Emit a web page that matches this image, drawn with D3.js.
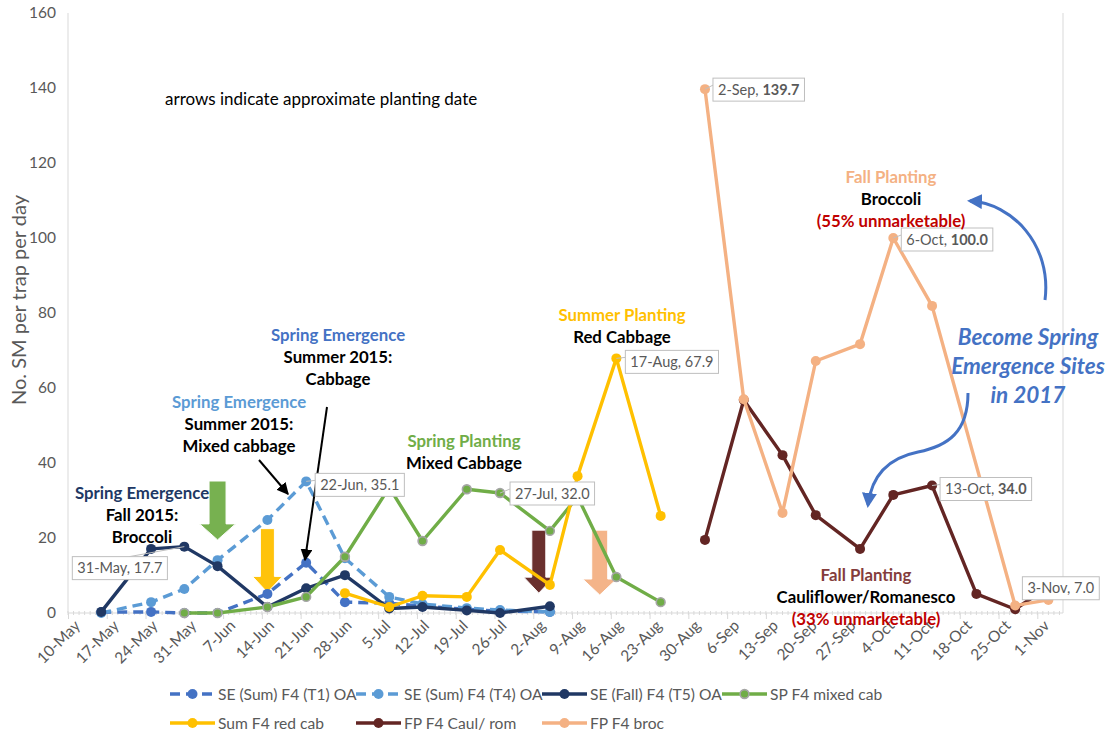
<!DOCTYPE html>
<html><head><meta charset="utf-8">
<script src="https://cdn.jsdelivr.net/npm/d3@7/dist/d3.min.js"></script>
<style>
html,body{margin:0;padding:0;background:#fff;}
svg{display:block;font-family:Lato,"Open Sans",sans-serif;}
</style></head><body>
<svg id="chart" width="1112" height="732"></svg>
<script>
// ---------- DATA ----------
const xTickLabels = ["10-May","17-May","24-May","31-May","7-Jun","14-Jun","21-Jun","28-Jun","5-Jul","12-Jul","19-Jul","26-Jul","2-Aug","9-Aug","16-Aug","23-Aug","30-Aug","6-Sep","13-Sep","20-Sep","27-Sep","4-Oct","11-Oct","18-Oct","25-Oct","1-Nov"];
const yTicks = [0,20,40,60,80,100,120,140,160];

const seT1Dates   = ["16-May","25-May","31-May","6-Jun","15-Jun","22-Jun","29-Jun","7-Jul","13-Jul","21-Jul","27-Jul","5-Aug"];
const seT1Values  = [0.2, 0.3, 0, 0, 5.1, 13.4, 2.9, 2.6, 1.8, 1.0, 0.5, 0.3];

const seT4Dates   = ["16-May","25-May","31-May","6-Jun","15-Jun","22-Jun","29-Jun","7-Jul","13-Jul","21-Jul","27-Jul","5-Aug"];
const seT4Values  = [0, 2.9, 6.4, 14.1, 24.8, 35.1, 14.6, 4.3, 2.4, 1.3, 0.8, 0.3];

const seT5Dates   = ["16-May","25-May","31-May","6-Jun","15-Jun","22-Jun","29-Jun","7-Jul","13-Jul","21-Jul","27-Jul","5-Aug"];
const seT5Values  = [0.3, 17.1, 17.7, 12.5, 1.6, 6.6, 10.1, 1.2, 1.6, 0.7, 0, 1.8];

const spDates     = ["31-May","6-Jun","15-Jun","22-Jun","29-Jun","7-Jul","13-Jul","21-Jul","27-Jul","5-Aug","10-Aug","17-Aug","25-Aug"];
const spValues    = [0, 0, 1.6, 4.3, 15.0, 33.5, 19.2, 33.0, 32.0, 21.9, 31.0, 9.6, 2.9];

const sumDates    = ["29-Jun","7-Jul","13-Jul","21-Jul","27-Jul","5-Aug","10-Aug","17-Aug","25-Aug"];
const sumValues   = [5.3, 1.6, 4.6, 4.3, 16.8, 7.5, 36.5, 67.9, 25.9];

const caulDates   = ["2-Sep","9-Sep","16-Sep","22-Sep","30-Sep","6-Oct","13-Oct","21-Oct","28-Oct","3-Nov"];
const caulValues  = [19.5, 56.8, 42.1, 26.1, 17.1, 31.5, 34.0, 5.1, 1.0, 7.0];

const brocDates   = ["2-Sep","9-Sep","16-Sep","22-Sep","30-Sep","6-Oct","13-Oct","28-Oct","3-Nov"];
const brocValues  = [139.7, 57.0, 26.7, 67.2, 71.7, 100.0, 81.9, 2.0, 3.5];

const seriesNames = ["SE (Sum) F4 (T1) OA","SE (Sum) F4 (T4) OA","SE (Fall) F4 (T5) OA","SP F4 mixed cab","Sum F4 red cab","FP F4 Caul/ rom","FP F4 broc"];

// planting-date arrows
const plantingDates = ["6-Jun","15-Jun","3-Aug","14-Aug"];

// ---------- SETUP ----------
const YEAR = "2016";
const parse = s => d3.timeParse("%d-%b-%Y")(s + "-" + YEAR);
const svg = d3.select("#chart");
const FONT = 'Lato,"Open Sans",sans-serif';

const x = d3.scaleTime().domain([parse("10-May"), parse("6-Nov")]).range([68, 1065]);
const y = d3.scaleLinear().domain([0,160]).range([613, 13]);

const styles = [
  {color:"#4472C4", dash:"10,6", stroke:null},
  {color:"#5B9BD5", dash:"10,6", stroke:null},
  {color:"#203864", dash:null, stroke:null},
  {color:"#70AD47", dash:null, stroke:"#A5A5A5"},
  {color:"#FFC000", dash:null, stroke:null},
  {color:"#632523", dash:null, stroke:null},
  {color:"#F4B183", dash:null, stroke:null}
];
const series = [
  [seT1Dates, seT1Values],[seT4Dates, seT4Values],[seT5Dates, seT5Values],
  [spDates, spValues],[sumDates, sumValues],[caulDates, caulValues],[brocDates, brocValues]
].map((s,i)=>({name:seriesNames[i], style:styles[i], pts:s[0].map((d,j)=>({date:parse(d), v:s[1][j], label:d}))}));

// ---------- AXES / FRAME ----------
const grey = "#D9D9D9";
svg.append("line").attr("x1",68).attr("x2",68).attr("y1",13).attr("y2",613).attr("stroke",grey).attr("stroke-width",1);
svg.append("line").attr("x1",1063).attr("x2",1063).attr("y1",13).attr("y2",613).attr("stroke",grey).attr("stroke-width",1);

// y axis labels
const yAxis = svg.append("g").attr("transform","translate(68,0)")
  .call(d3.axisLeft(y).tickValues(yTicks).tickSize(0).tickPadding(12));
yAxis.select(".domain").remove();
yAxis.selectAll("text").attr("font-family",FONT).attr("font-size",15.5).attr("fill","#595959");

// minor ticks (daily)
const days = d3.timeDay.range(parse("10-May"), parse("6-Nov"));
svg.append("g").selectAll("line").data(days).join("line")
  .attr("x1",d=>x(d)).attr("x2",d=>x(d)).attr("y1",611).attr("y2",615)
  .attr("stroke",grey).attr("stroke-width",1);
// x axis
const tickDates = xTickLabels.map(parse);
const xAxis = svg.append("g").attr("transform","translate(0,613)")
  .call(d3.axisBottom(x).tickValues(tickDates).tickFormat(d3.timeFormat("%-d-%b")).tickSize(6).tickSizeOuter(0));
xAxis.select(".domain").attr("stroke",grey).attr("d","M68,0H1063");
xAxis.selectAll(".tick line").attr("stroke",grey);
xAxis.selectAll("text").attr("font-family",FONT).attr("font-size",15.5).attr("fill","#595959")
  .attr("text-anchor","end").attr("transform","translate(5,6) rotate(-45)").attr("dy","0.7em").attr("y",0).attr("x",0);

// y title
svg.append("text").attr("transform","translate(26,300) rotate(-90)").attr("text-anchor","middle")
  .attr("font-family",FONT).attr("font-size",20).attr("fill","#595959").text("No. SM per trap per day");

// ---------- PLANTING ARROWS ----------
const blockArrows = [
  {date:plantingDates[0], top:35.2, tip:19.5, fill:"#70AD47", shaft:17, head:36},
  {date:plantingDates[1], top:22.5, tip:5.5, fill:"#FFC000", shaft:14, head:30},
  {date:plantingDates[2], top:22.1, tip:5.3, fill:"#632523", shaft:14, head:30},
  {date:plantingDates[3], top:22.1, tip:4.8, fill:"#F4B183", shaft:16, head:34}
];
blockArrows.forEach(a=>{
  const cx = x(parse(a.date)), t = y(a.top), p = y(a.tip), nk = p - 16;
  const s = a.shaft/2, h = a.head/2;
  svg.append("path").attr("d",`M${cx-s},${t}H${cx+s}V${nk}H${cx+h}L${cx},${p}L${cx-h},${nk}H${cx-s}Z`)
    .attr("fill",a.fill).attr("stroke","#fff").attr("stroke-width",1).attr("opacity",0.95);
});

// ---------- LINES ----------
const line = d3.line().x(d=>x(d.date)).y(d=>y(d.v));
series.forEach(s=>{
  svg.append("path").datum(s.pts).attr("d",line).attr("fill","none")
    .attr("stroke",s.style.color).attr("stroke-width",3.4)
    .attr("stroke-dasharray",s.style.dash).attr("stroke-linejoin","round");
  svg.append("g").selectAll("circle").data(s.pts).join("circle")
    .attr("cx",d=>x(d.date)).attr("cy",d=>y(d.v)).attr("r",s.style.stroke?4.4:5)
    .attr("fill",s.style.color).attr("stroke",s.style.stroke||"none").attr("stroke-width",1.6);
});

// ---------- BLACK POINTER ARROWS ----------
const defs = svg.append("defs");
defs.append("marker").attr("id","blk").attr("viewBox","0 0 10 10").attr("refX",9).attr("refY",5)
  .attr("markerWidth",6).attr("markerHeight",6).attr("orient","auto")
  .append("path").attr("d","M0,0L10,5L0,10Z").attr("fill","#000");
defs.append("marker").attr("id","blu").attr("viewBox","0 0 10 10").attr("refX",8).attr("refY",5)
  .attr("markerWidth",5).attr("markerHeight",5).attr("orient","auto")
  .append("path").attr("d","M0,0L10,5L0,10Z").attr("fill","#4472C4");
svg.append("line").attr("x1",259).attr("y1",460).attr("x2",288).attr("y2",494)
  .attr("stroke","#000").attr("stroke-width",2).attr("marker-end","url(#blk)");
svg.append("line").attr("x1",327).attr("y1",407).attr("x2",305).attr("y2",560)
  .attr("stroke","#000").attr("stroke-width",2).attr("marker-end","url(#blk)");

// blue curved arrows
svg.append("path").attr("d","M1045,300 C1052,245 1012,203 970,201").attr("fill","none")
  .attr("stroke","#4472C4").attr("stroke-width",3).attr("marker-end","url(#blu)");
svg.append("path").attr("d","M968,393 C968,432 948,446 918,452 C893,457 872,472 868,505").attr("fill","none")
  .attr("stroke","#4472C4").attr("stroke-width",3).attr("marker-end","url(#blu)");

// ---------- DATA LABELS ----------
const fmtD = d3.timeFormat("%-d-%b");
const dataLabels = [
  {s:2, i:2, dx:-112, dy:10, bold:false},
  {s:1, i:5, dx:9, dy:-8, bold:false},
  {s:3, i:8, dx:10, dy:-11, bold:false},
  {s:4, i:7, dx:9, dy:-8, bold:false},
  {s:6, i:0, dx:8, dy:-11, bold:true},
  {s:6, i:5, dx:8, dy:-10, bold:true},
  {s:5, i:6, dx:8, dy:-8, bold:true},
  {s:5, i:9, dx:-26, dy:-10, bold:false}
];
dataLabels.forEach(L=>{
  const p = series[L.s].pts[L.i];
  const px = x(p.date), py = y(p.v);
  const g = svg.append("g");
  const bx = px + L.dx, by = py + L.dy;
  const rect = g.append("rect").attr("x",bx).attr("y",by).attr("height",23).attr("fill","#fff")
    .attr("stroke","#BFBFBF").attr("stroke-width",1);
  const t = g.append("text").attr("x",bx+5).attr("y",by+16.5).attr("font-family",FONT).attr("font-size",14.5).attr("fill","#595959");
  t.append("tspan").text(fmtD(p.date) + ", ");
  t.append("tspan").attr("font-weight",L.bold?"bold":"normal").text(p.v.toFixed(1));
  const w = t.node().getComputedTextLength() + 10;
  rect.attr("width",w);
  // leader
  if (L.dx < 0 && L.dx > -50) return;
  let lx = L.dx > 0 ? bx : bx + w*0.6, ly = L.dx > 0 ? by + 7 : by;
  g.insert("path","rect").attr("d",`M${px},${py}L${lx},${ly}`).attr("stroke","#BFBFBF").attr("stroke-width",1).attr("fill","none");
});

// ---------- TEXT ANNOTATIONS ----------
function label(cx, y0, lines){
  lines.forEach((l,i)=>{
    svg.append("text").attr("x",cx).attr("y",y0 + i*22).attr("text-anchor","middle")
      .attr("font-family",FONT).attr("font-size",l.size||16.8).attr("font-weight","bold")
      .attr("font-style",l.italic?"italic":"normal").attr("fill",l.c).text(l.t);
  });
}
svg.append("text").attr("x",165).attr("y",105).attr("font-family",FONT).attr("font-size",17).attr("fill","#000")
  .text("arrows indicate approximate planting date");
label(142,499,[{t:"Spring Emergence",c:"#203864"},{t:"Fall 2015:",c:"#000"},{t:"Broccoli",c:"#000"}]);
label(239,408,[{t:"Spring Emergence",c:"#5B9BD5"},{t:"Summer 2015:",c:"#000"},{t:"Mixed cabbage",c:"#000"}]);
label(338,341,[{t:"Spring Emergence",c:"#4472C4"},{t:"Summer 2015:",c:"#000"},{t:"Cabbage",c:"#000"}]);
label(464,447,[{t:"Spring Planting",c:"#70AD47"},{t:"Mixed Cabbage",c:"#000"}]);
label(622,321,[{t:"Summer Planting",c:"#FFC000"},{t:"Red Cabbage",c:"#000"}]);
label(891,183,[{t:"Fall Planting",c:"#F4B183"},{t:"Broccoli",c:"#000"},{t:"(55% unmarketable)",c:"#C00000"}]);
label(866,581,[{t:"Fall Planting",c:"#843C3C"},{t:"Cauliflower/Romanesco",c:"#000"},{t:"(33% unmarketable)",c:"#C00000"}]);
[["Become Spring",345],["Emergence Sites",374],["in 2017",403]].forEach(([t,yy])=>{
  svg.append("text").attr("x",1028).attr("y",yy).attr("text-anchor","middle").attr("font-family",FONT)
    .attr("font-size",22.5).attr("font-weight","bold").attr("font-style","italic").attr("fill","#4472C4").text(t);
});

// ---------- LEGEND ----------
const legendPos = [[170,694],[356,694],[542,694],[722,694],[170,723],[356,723],[542,723]];
series.forEach((s,i)=>{
  const [lx,ly] = legendPos[i];
  const g = svg.append("g").attr("transform",`translate(${lx},${ly})`);
  g.append("line").attr("x1",0).attr("x2",45).attr("y1",0).attr("y2",0).attr("stroke",s.style.color)
    .attr("stroke-width",3.4).attr("stroke-dasharray",s.style.dash ? "10,6" : null);
  g.append("circle").attr("cx",22.5).attr("cy",0).attr("r",s.style.stroke?4.4:5).attr("fill",s.style.color)
    .attr("stroke",s.style.stroke||"none").attr("stroke-width",1.6);
  g.append("text").attr("x",48).attr("y",6).attr("font-family",FONT).attr("font-size",15.6).attr("fill","#595959").text(s.name);
});
</script>
</body></html>
